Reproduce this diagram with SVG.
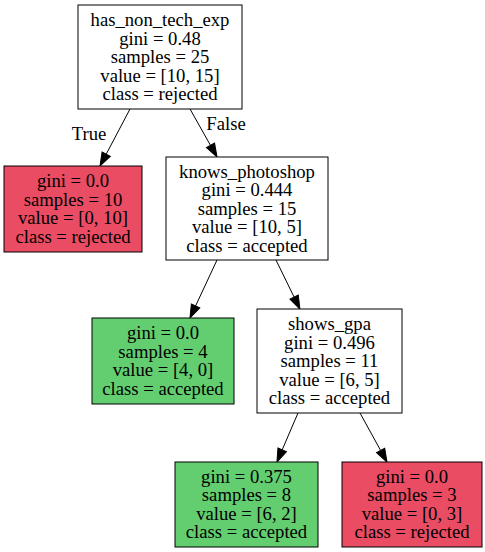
<svg xmlns="http://www.w3.org/2000/svg" width="485" height="552" viewBox="0 0 485 552">
<style>
text{font-family:"Liberation Serif","Times New Roman",serif;font-size:18.67px;text-anchor:middle;fill:#000}
.box{stroke:#000;stroke-width:1}
.w{fill:#fff}
.r{fill:#ea4c63}
.g{fill:#63ce6f}
.e{stroke:#000;stroke-width:1;fill:none;marker-end:url(#ah)}
</style>
<defs>
<marker id="ah" markerUnits="userSpaceOnUse" markerWidth="13.3" markerHeight="9.3" viewBox="0 0 13.3 9.3" refX="0" refY="4.65" orient="auto" overflow="visible">
<path d="M0,0 L13.3,4.65 L0,9.3 Z" fill="#000" stroke="#000" stroke-width="1"/>
</marker>
</defs>
<rect width="485" height="552" fill="#fff"/>
<g id="connectors">
<line class="e" x1="130" y1="109" x2="106.2" y2="154.2"/>
<line class="e" x1="190" y1="109" x2="210.5" y2="145.4"/>
<line class="e" x1="217" y1="260" x2="195.6" y2="305.9"/>
<line class="e" x1="276" y1="260" x2="294.1" y2="297.1"/>
<line class="e" x1="298" y1="413" x2="282.2" y2="449.8"/>
<line class="e" x1="360" y1="413" x2="380.6" y2="450.4"/>
<text x="89" y="140">True</text>
<text x="226" y="130">False</text>
</g>
<g id="n0">
<rect class="box w" x="78" y="5" width="164" height="104"/>
<text x="160" y="26.3">has_non_tech_exp</text>
<text x="160" y="44.8">gini = 0.48</text>
<text x="160" y="63.3">samples = 25</text>
<text x="160" y="81.8">value = [10, 15]</text>
<text x="160" y="100.3">class = rejected</text>
</g>
<g id="n1">
<rect class="box r" x="4" y="166" width="138" height="86"/>
<text x="73" y="187.3">gini = 0.0</text>
<text x="73" y="205.8">samples = 10</text>
<text x="73" y="224.3">value = [0, 10]</text>
<text x="73" y="242.8">class = rejected</text>
</g>
<g id="n2">
<rect class="box w" x="166" y="157" width="162" height="103"/>
<text x="247" y="177.5">knows_photoshop</text>
<text x="247" y="196">gini = 0.444</text>
<text x="247" y="214.5">samples = 15</text>
<text x="247" y="233">value = [10, 5]</text>
<text x="247" y="251.5">class = accepted</text>
</g>
<g id="n3">
<rect class="box g" x="92" y="318" width="142" height="86"/>
<text x="163" y="339.3">gini = 0.0</text>
<text x="163" y="357.8">samples = 4</text>
<text x="163" y="376.3">value = [4, 0]</text>
<text x="163" y="394.8">class = accepted</text>
</g>
<g id="n4">
<rect class="box w" x="257" y="309" width="145" height="104"/>
<text x="329.5" y="330">shows_gpa</text>
<text x="329.5" y="348.5">gini = 0.496</text>
<text x="329.5" y="367">samples = 11</text>
<text x="329.5" y="385.5">value = [6, 5]</text>
<text x="329.5" y="404">class = accepted</text>
</g>
<g id="n5">
<rect class="box g" x="175" y="462" width="143" height="85"/>
<text x="246.5" y="482.8">gini = 0.375</text>
<text x="246.5" y="501.3">samples = 8</text>
<text x="246.5" y="519.8">value = [6, 2]</text>
<text x="246.5" y="538.3">class = accepted</text>
</g>
<g id="n6">
<rect class="box r" x="342" y="462" width="140" height="85"/>
<text x="412" y="482.8">gini = 0.0</text>
<text x="412" y="501.3">samples = 3</text>
<text x="412" y="519.8">value = [0, 3]</text>
<text x="412" y="538.3">class = rejected</text>
</g>
</svg>
